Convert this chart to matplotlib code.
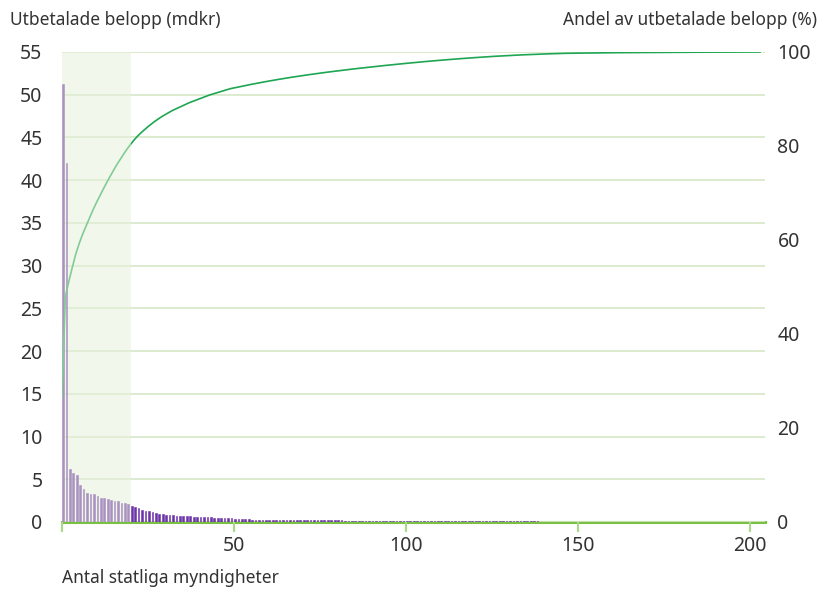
import numpy as np
import matplotlib.pyplot as plt

plt.rcParams['font.family'] = ['Noto Sans', 'DejaVu Sans']

# utbetalade belopp per myndighet (mdkr), sorterade fallande
belopp_1_20 = [51.3, 42.0, 6.2, 5.75, 5.5, 4.35, 3.9, 3.4, 3.3, 3.3,
               3.0, 2.82, 2.82, 2.7, 2.6, 2.48, 2.48, 2.2, 2.2, 2.1]
belopp_21_50 = [1.87, 1.76, 1.6, 1.36, 1.25, 1.25, 1.13, 1.09, 0.97, 0.97,
                0.82, 0.82, 0.82, 0.66, 0.66, 0.66, 0.66, 0.66, 0.54, 0.54,
                0.54, 0.54, 0.54, 0.54, 0.43, 0.43, 0.43, 0.43, 0.43, 0.43]
belopp_51_100 = [0.3, 0.3, 0.3, 0.29, 0.29, 0.28, 0.28, 0.27, 0.27, 0.26,
                 0.26, 0.25, 0.25, 0.24, 0.24, 0.23, 0.23, 0.22, 0.22, 0.22,
                 0.21, 0.21, 0.2, 0.2, 0.2, 0.19, 0.19, 0.19, 0.18, 0.18,
                 0.18, 0.18, 0.17, 0.17, 0.17, 0.17, 0.16, 0.16, 0.16, 0.16,
                 0.16, 0.15, 0.15, 0.15, 0.15, 0.15, 0.15, 0.14, 0.14, 0.14]
belopp_101_148 = [0.14, 0.14, 0.14, 0.13, 0.13, 0.13, 0.13, 0.13, 0.12, 0.12,
                  0.12, 0.12, 0.12, 0.11, 0.11, 0.11, 0.11, 0.11, 0.1, 0.1,
                  0.1, 0.1, 0.1, 0.09, 0.09, 0.09, 0.09, 0.08, 0.08, 0.08,
                  0.08, 0.07, 0.07, 0.07, 0.07, 0.06, 0.06, 0.06, 0.06, 0.05,
                  0.05, 0.05, 0.05, 0.05, 0.04, 0.04, 0.04, 0.04]
belopp_149_204 = [0.02, 0.02, 0.02, 0.02, 0.02, 0.02, 0.02, 0.02, 0.02, 0.02,
                  0.01, 0.01, 0.01, 0.01, 0.01, 0.01, 0.01, 0.01, 0.01, 0.01,
                  0.01, 0.01, 0.01, 0.01, 0.01, 0.01, 0.01, 0.01, 0.01, 0.01,
                  0.005, 0.005, 0.005, 0.005, 0.005, 0.005, 0.005, 0.005, 0.005, 0.005,
                  0.005, 0.005, 0.005, 0.005, 0.005, 0.005, 0.005, 0.005, 0.005, 0.005,
                  0.005, 0.005, 0.005, 0.005, 0.005, 0.005]

markerat_antal = 20  # de 20 största myndigheterna
left_ticks = [0, 5, 10, 15, 20, 25, 30, 35, 40, 45, 50, 55]
right_ticks = [0, 20, 40, 60, 80, 100]
x_ticks = [0, 50, 100, 150, 200]
x_labels = ['', '50', '100', '150', '200']

belopp = np.array(belopp_1_20 + belopp_21_50 + belopp_51_100
                  + belopp_101_148 + belopp_149_204)
n = len(belopp)
andel = np.cumsum(belopp) / belopp.sum() * 100
pos = np.arange(n)

purple = '#6c34a8'
line_green = '#1ea653'
axis_green = '#7ac143'
grid_green = '#d6e8c6'
text_col = '#333333'

fig = plt.figure(figsize=(8.26, 5.9), dpi=100)
ax = fig.add_axes([0.075, 0.1153, 0.851, 0.7966])
ax2 = ax.twinx()

ax.bar(pos + 0.3, belopp, width=0.5, color=purple, linewidth=0.4,
       edgecolor=purple, zorder=3)
ax.set_xlim(0, 204.4)
ax.set_ylim(0, 55)
ax.set_yticks(left_ticks)
ax.set_xticks(x_ticks)
ax.set_xticklabels(x_labels)
ax.grid(axis='y', color=grid_green, linewidth=1.2, zorder=1)
ax.set_axisbelow(False)

ax2.plot(pos, andel, color=line_green, linewidth=1.2, zorder=3)
# markering av de största myndigheterna, ligger över staplar och linje
ax2.axvspan(0, markerat_antal, color='#e6f0da', alpha=0.5, lw=0, zorder=4)
ax2.set_ylim(0, 100)
ax2.set_yticks(right_ticks)

for a in (ax, ax2):
    for s in a.spines.values():
        s.set_visible(False)
ax.spines['bottom'].set_visible(True)
ax.spines['bottom'].set_color(axis_green)
ax.spines['bottom'].set_linewidth(2.2)
ax.spines['bottom'].set_zorder(2)

ax.tick_params(axis='y', length=0, pad=14, labelsize=14, labelcolor=text_col)
ax2.tick_params(axis='y', length=0, pad=9, labelsize=14, labelcolor=text_col)
ax.tick_params(axis='x', length=7, width=1.5, color='#a9d88a', pad=3,
               labelsize=14, labelcolor=text_col)

fig.text(10 / 826, 1 - 20 / 590, 'Utbetalade belopp (mdkr)', ha='left',
         va='center', fontsize=12.5, color=text_col)
fig.text(817 / 826, 1 - 20 / 590, 'Andel av utbetalade belopp (%)', ha='right',
         va='center', fontsize=12.5, color=text_col)
fig.text(62 / 826, 1 - 578 / 590, 'Antal statliga myndigheter', ha='left',
         va='center', fontsize=12.5, color=text_col)

fig.savefig('out.png', dpi=100)
